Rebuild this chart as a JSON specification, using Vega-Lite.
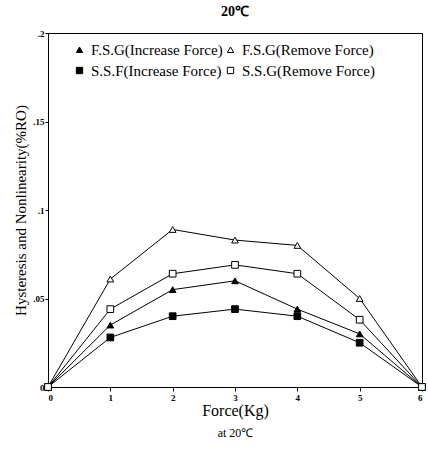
{
  "$schema": "https://vega.github.io/schema/vega-lite/v6.json",
  "width": 374,
  "height": 354,
  "autosize": "none",
  "padding": {"left": 48, "top": 33, "right": 6, "bottom": 63},
  "background": "white",
  "title": {"text": "20℃", "font": "Liberation Serif", "fontSize": 14, "fontWeight": "bold", "offset": 10, "color": "black"},
  "config": {
    "view": {"stroke": "black", "strokeWidth": 1},
    "font": "Liberation Serif",
    "axis": {"domainColor": "black", "tickColor": "black", "labelColor": "black", "titleColor": "black", "grid": false, "labelFont": "Liberation Serif", "titleFont": "Liberation Serif"},
    "legend": {"title": null, "orient": "none", "legendX": 24, "legendY": 9, "columns": 2, "columnPadding": 0, "rowPadding": 5, "labelFontSize": 15, "labelFont": "Liberation Serif", "labelColor": "black", "symbolSize": 40, "symbolStrokeWidth": 1, "labelLimit": 300}
  },
  "data": {"values": [
    {"force": 0, "value": 0, "series": "F.S.G(Increase Force)"},
    {"force": 1, "value": 0.035, "series": "F.S.G(Increase Force)"},
    {"force": 2, "value": 0.055, "series": "F.S.G(Increase Force)"},
    {"force": 3, "value": 0.060, "series": "F.S.G(Increase Force)"},
    {"force": 4, "value": 0.044, "series": "F.S.G(Increase Force)"},
    {"force": 5, "value": 0.030, "series": "F.S.G(Increase Force)"},
    {"force": 6, "value": 0, "series": "F.S.G(Increase Force)"},
    {"force": 0, "value": 0, "series": "F.S.G(Remove Force)"},
    {"force": 1, "value": 0.061, "series": "F.S.G(Remove Force)"},
    {"force": 2, "value": 0.089, "series": "F.S.G(Remove Force)"},
    {"force": 3, "value": 0.083, "series": "F.S.G(Remove Force)"},
    {"force": 4, "value": 0.080, "series": "F.S.G(Remove Force)"},
    {"force": 5, "value": 0.050, "series": "F.S.G(Remove Force)"},
    {"force": 6, "value": 0, "series": "F.S.G(Remove Force)"},
    {"force": 0, "value": 0, "series": "S.S.F(Increase Force)"},
    {"force": 1, "value": 0.028, "series": "S.S.F(Increase Force)"},
    {"force": 2, "value": 0.040, "series": "S.S.F(Increase Force)"},
    {"force": 3, "value": 0.044, "series": "S.S.F(Increase Force)"},
    {"force": 4, "value": 0.040, "series": "S.S.F(Increase Force)"},
    {"force": 5, "value": 0.025, "series": "S.S.F(Increase Force)"},
    {"force": 6, "value": 0, "series": "S.S.F(Increase Force)"},
    {"force": 0, "value": 0, "series": "S.S.G(Remove Force)"},
    {"force": 1, "value": 0.044, "series": "S.S.G(Remove Force)"},
    {"force": 2, "value": 0.064, "series": "S.S.G(Remove Force)"},
    {"force": 3, "value": 0.069, "series": "S.S.G(Remove Force)"},
    {"force": 4, "value": 0.064, "series": "S.S.G(Remove Force)"},
    {"force": 5, "value": 0.038, "series": "S.S.G(Remove Force)"},
    {"force": 6, "value": 0, "series": "S.S.G(Remove Force)"}
  ]},
  "resolve": {"axis": {"x": "independent", "y": "independent"}},
  "layer": [
    {
      "mark": {"type": "line", "color": "black", "strokeWidth": 1},
      "encoding": {
        "x": {"field": "force", "type": "quantitative", "scale": {"domain": [0, 6], "nice": false},
          "axis": {"title": "Force(Kg)", "titleFontSize": 16, "titleFontWeight": "normal", "titlePadding": 0, "values": [0,1,2,3,4,5,6], "labelFontSize": 9, "labelFontWeight": "bold", "tickSize": 4, "labelPadding": 2}},
        "y": {"field": "value", "type": "quantitative", "scale": {"domain": [0, 0.2], "nice": false},
          "axis": {"title": "Hysteresis and Nonlinearity(%RO)", "titleFontSize": 15, "titleFontWeight": "normal", "titlePadding": 4, "values": [0, 0.05, 0.1, 0.15, 0.2], "labelExpr": "datum.value == 0 ? '0' : replace(format(datum.value, '.2~f'), '0.', '.')", "labelFontSize": 9, "labelFontWeight": "bold", "tickSize": 3, "labelPadding": 1}},
        "detail": {"field": "series"}
      }
    },
    {
      "mark": {"type": "point", "filled": true, "strokeWidth": 1, "size": 45, "opacity": 1},
      "encoding": {
        "x": {"field": "force", "type": "quantitative", "scale": {"domain": [0, 6], "nice": false},
          "axis": {"orient": "bottom", "title": "at 20℃", "titleFontSize": 12, "titleFontWeight": "normal", "labels": false, "ticks": false, "domain": false, "titlePadding": 40}},
        "y": {"field": "value", "type": "quantitative", "scale": {"domain": [0, 0.2], "nice": false}, "axis": null},
        "shape": {"field": "series", "type": "nominal",
          "scale": {"domain": ["F.S.G(Increase Force)", "S.S.F(Increase Force)", "F.S.G(Remove Force)", "S.S.G(Remove Force)"], "range": ["triangle-up", "square", "triangle-up", "square"]}},
        "fill": {"field": "series", "type": "nominal",
          "scale": {"domain": ["F.S.G(Increase Force)", "S.S.F(Increase Force)", "F.S.G(Remove Force)", "S.S.G(Remove Force)"], "range": ["black", "black", "white", "white"]}},
        "stroke": {"field": "series", "type": "nominal",
          "scale": {"domain": ["F.S.G(Increase Force)", "S.S.F(Increase Force)", "F.S.G(Remove Force)", "S.S.G(Remove Force)"], "range": ["black", "black", "black", "black"]}}
      }
    }
  ]
}
